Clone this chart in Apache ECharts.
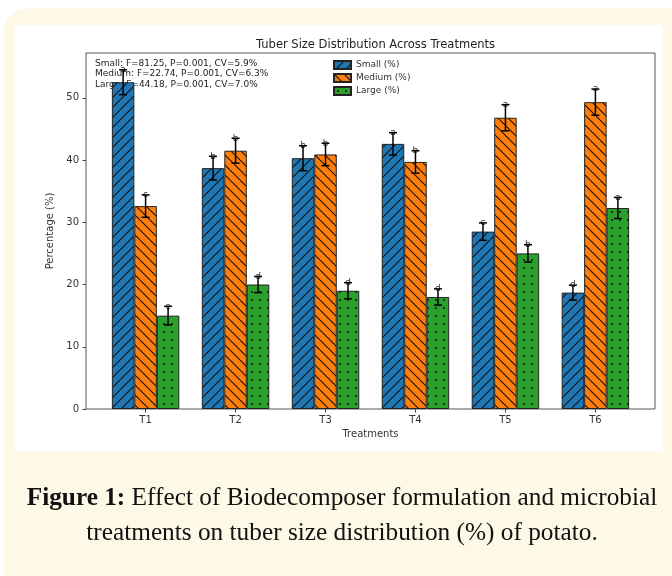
<!DOCTYPE html>
<html><head><meta charset="utf-8">
<script src="https://cdn.jsdelivr.net/npm/echarts@6/dist/echarts.min.js"></script>
<style>
html,body{margin:0;padding:0;background:#fff;width:672px;height:576px;overflow:hidden}
#card{position:absolute;left:4px;top:8px;width:700px;height:600px;background:#fdf9e6;border-radius:24px}
#panel{position:absolute;left:15px;top:25px;width:648px;height:426px;background:#fff}
#chart{position:absolute;left:0;top:0;width:672px;height:576px}
#cap{position:absolute;left:4px;width:676px;top:479px;text-align:center;font-family:'Liberation Serif',serif;font-size:25.3px;line-height:35px;color:#111;white-space:nowrap}
</style></head><body>
<div id="card"></div><div id="panel"></div><div id="chart"></div>
<div id="cap"><b>Figure 1:</b> Effect of Biodecomposer formulation and microbial<br>treatments on tuber size distribution (%) of potato.</div>
<script>
const categories = ['T1','T2','T3','T4','T5','T6'];
const smallVals = [52.5, 38.7, 40.3, 42.6, 28.5, 18.7];
const smallErr = [2.0, 1.9, 2.0, 1.8, 1.4, 1.2];
const smallLetters = ['a','b','b','a','c','d'];
const mediumVals = [32.6, 41.5, 40.9, 39.7, 46.8, 49.3];
const mediumErr = [1.8, 2.0, 1.8, 1.8, 2.1, 2.1];
const mediumLetters = ['c','b','b','b','a','a'];
const largeVals = [15.0, 20.0, 19.0, 18.0, 25.0, 32.3];
const largeErr = [1.5, 1.3, 1.3, 1.3, 1.4, 1.7];
const largeLetters = ['e','d','d','d','b','a'];
const yTicks = [0, 10, 20, 30, 40, 50];
const seriesNames = ['Small (%)', 'Medium (%)', 'Large (%)'];
const statsLines = [
  'Small: F=81.25, P=0.001, CV=5.9%',
  'Medium: F=22.74, P=0.001, CV=6.3%',
  'Large: F=44.18, P=0.001, CV=7.0%'
];

function hatch(base, kind) {
  const c = document.createElement('canvas');
  const s = kind === 'dots' ? 8 : 10;
  c.width = s; c.height = s;
  const g = c.getContext('2d');
  g.fillStyle = base; g.fillRect(0, 0, s, s);
  g.strokeStyle = '#111'; g.fillStyle = '#111'; g.lineWidth = 1.1;
  if (kind === 'fwd') {
    [-s, 0, s].forEach(dx => {
      g.beginPath(); g.moveTo(dx, s); g.lineTo(dx + s, 0); g.stroke();
    });
  } else if (kind === 'back') {
    [-s, 0, s].forEach(dx => {
      g.beginPath(); g.moveTo(dx, 0); g.lineTo(dx + s, s); g.stroke();
    });
  } else {
    g.beginPath(); g.arc(s / 2, s / 2, 1.0, 0, Math.PI * 2); g.fill();
  }
  return { image: c, repeat: 'repeat' };
}
const fills = [hatch('#1f77b4', 'fwd'), hatch('#ff7f0e', 'back'), hatch('#2ca02c', 'dots')];
const valsAll = [smallVals, mediumVals, largeVals];
const errAll = [smallErr, mediumErr, largeErr];
const lettersAll = [smallLetters, mediumLetters, largeLetters];
const barFrac = 0.25;

const chart = echarts.init(document.getElementById('chart'), null, { renderer: 'canvas' });
const series = [];
valsAll.forEach((vals, k) => {
  series.push({
    name: seriesNames[k], type: 'bar', barWidth: '25%', barGap: '0%',
    data: vals.map((v, i) => [i, v]),
    itemStyle: { color: fills[k], borderColor: '#222', borderWidth: 1 },
    emphasis: { disabled: true }, z: 2
  });
});
valsAll.forEach((vals, k) => {
  const off = (k - 1) * barFrac;
  series.push({
    type: 'custom', z: 5, clip: false, silent: true,
    encode: { x: 0, y: 1 },
    data: vals.map((v, i) => [i + off, v, errAll[k][i]]),
    renderItem: function (params, api) {
      const x = api.value(0), v = api.value(1), e = api.value(2);
      const top = api.coord([x, v + e]), bot = api.coord([x, v - e]);
      const cw = 4, st = { stroke: '#000', lineWidth: 1.5 };
      return { type: 'group', children: [
        { type: 'text', x: top[0], y: top[1] + 4.5, style: { text: lettersAll[k][params.dataIndex], fill: '#333', font: '9px "DejaVu Sans"', align: 'center', verticalAlign: 'bottom' } },
        { type: 'line', shape: { x1: top[0], y1: top[1], x2: bot[0], y2: bot[1] }, style: st },
        { type: 'line', shape: { x1: top[0] - cw, y1: top[1], x2: top[0] + cw, y2: top[1] }, style: st },
        { type: 'line', shape: { x1: bot[0] - cw, y1: bot[1], x2: bot[0] + cw, y2: bot[1] }, style: st }
      ] };
    }
  });
});

chart.setOption({
  animation: false,
  textStyle: { fontFamily: 'DejaVu Sans' },
  title: {
    text: 'Tuber Size Distribution Across Treatments', left: 370.5, top: 34, textAlign: 'center',
    textStyle: { fontSize: 11.5, fontWeight: 'normal', color: '#222', fontFamily: 'DejaVu Sans' }
  },
  grid: { left: 86, right: 17, top: 53, bottom: 167, show: true, borderColor: '#555', borderWidth: 1, backgroundColor: 'transparent' },
  legend: {
    data: seriesNames, orient: 'vertical', left: 328, top: 55, itemWidth: 17, itemHeight: 8, itemGap: 3,
    textStyle: { fontSize: 9, color: '#333', fontFamily: 'DejaVu Sans' }, icon: 'rect'
  },
  graphic: [{
    type: 'text', left: 95, top: 58,
    style: { text: statsLines.join('\n'), font: '9px "DejaVu Sans"', lineHeight: 10.5, fill: '#222' }
  }],
  xAxis: {
    type: 'value', min: -0.6625, max: 5.6625,
    name: 'Treatments', nameLocation: 'middle', nameGap: 19,
    nameTextStyle: { fontSize: 10, color: '#333' },
    axisLine: { show: false, onZero: false },
    splitLine: { show: false },
    axisTick: { show: true, length: 3.5, lineStyle: { color: '#444' }, customValues: categories.map((c, i) => i) },
    axisLabel: { fontSize: 10, color: '#333', margin: 6, customValues: categories.map((c, i) => i), formatter: v => categories[Math.round(v)] }
  },
  yAxis: {
    type: 'value', min: 0, max: 57.2,
    name: 'Percentage (%)', nameLocation: 'middle', nameGap: 30,
    nameTextStyle: { fontSize: 10, color: '#333' },
    axisLine: { show: false, onZero: false },
    splitLine: { show: false },
    axisTick: { show: true, length: 3.5, lineStyle: { color: '#444' }, customValues: yTicks },
    axisLabel: { fontSize: 10, color: '#333', margin: 7, customValues: yTicks }
  },
  series: series
});
</script>
</body></html>
